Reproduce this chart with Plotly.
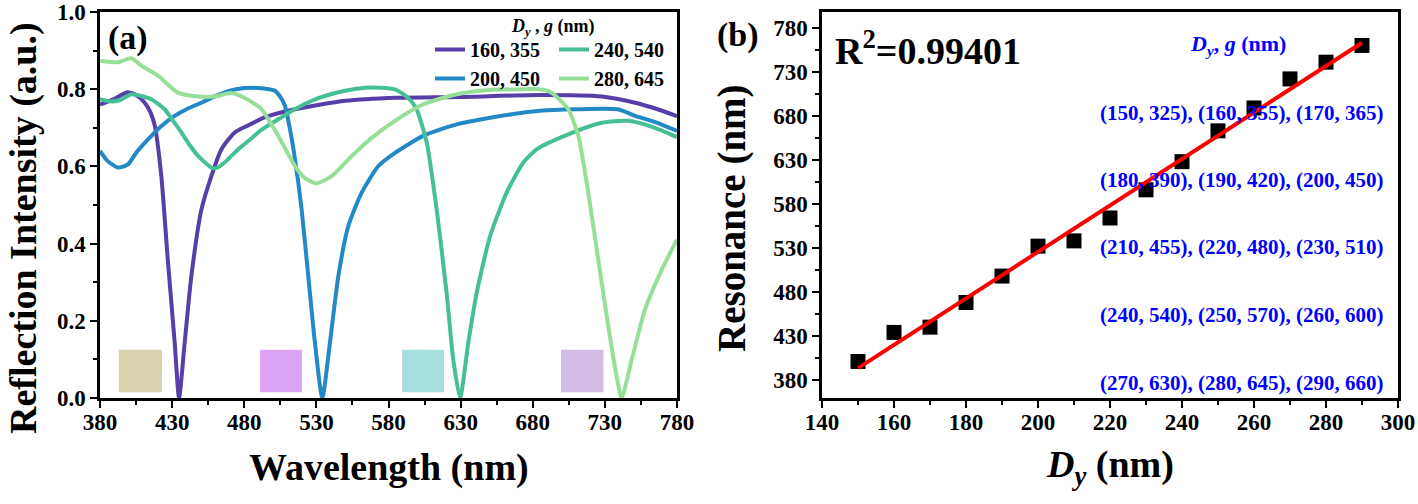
import numpy as np
import plotly.graph_objects as go

# ---------------- data: panel (a) ----------------
wl_160 = [380, 390, 399, 405, 411, 415, 418, 422.5, 427, 431.8, 434.8, 438.7, 443.3, 450.3, 457.2,
          464.1, 473.4, 482, 495, 515, 550, 585, 630, 685, 728, 751, 765, 780]
r_160 = [0.76, 0.775, 0.792, 0.785, 0.765, 0.74, 0.705, 0.575, 0.358, 0.143, 0.0, 0.143, 0.315, 0.488, 0.575,
         0.644, 0.688, 0.705, 0.728, 0.748, 0.770, 0.778, 0.78, 0.785, 0.781, 0.765, 0.75, 0.73]

wl_200 = [380, 385, 392.5, 399.4, 405, 413.3, 422, 431.8, 441, 450.2, 460, 468.7, 480, 490, 497, 501.3,
          505, 508.2, 512, 515.2, 519.8, 524.4, 529, 534.1, 539.4, 545.2, 552.1, 561.4, 573, 584.5,
          604, 627.3, 650.4, 685, 710, 739, 751, 765, 780]
r_200 = [0.64, 0.615, 0.597, 0.605, 0.635, 0.67, 0.703, 0.731, 0.75, 0.765, 0.782, 0.795, 0.803, 0.803, 0.80, 0.796,
         0.78, 0.757, 0.69, 0.618, 0.488, 0.315, 0.143, 0.0, 0.143, 0.315, 0.445, 0.532, 0.601, 0.635,
         0.679, 0.709, 0.726, 0.744, 0.748, 0.748, 0.731, 0.715, 0.692]

wl_240 = [380, 387.8, 394, 401.7, 408, 415.6, 424.8, 430, 436.4, 442, 448, 457.2, 461, 466.4, 475.7, 482.6,
          492, 503.6, 515, 526.8, 538, 549.8, 563.7, 575, 584, 590.3, 595, 599.5, 606.5, 613.4, 620.3,
          624.9, 629.6, 635.3, 641.1, 650.4, 661.9, 673.5, 683, 704.6, 727.8, 746.3, 764.7, 780]
r_240 = [0.774, 0.768, 0.772, 0.787, 0.783, 0.774, 0.748, 0.722, 0.688, 0.656, 0.627, 0.597, 0.596, 0.61, 0.644, 0.665,
         0.695, 0.722, 0.748, 0.770, 0.785, 0.796, 0.804, 0.804, 0.800, 0.787, 0.772, 0.748, 0.662, 0.488, 0.272,
         0.099, 0.0, 0.143, 0.272, 0.419, 0.532, 0.61, 0.645, 0.683, 0.713, 0.718, 0.70, 0.676]

wl_280 = [380, 392.5, 401.7, 408.6, 420.2, 434, 447.9, 459.5, 471, 480, 486, 492, 503.6, 515.2, 522, 530,
          540.6, 554.5, 568.4, 584.5, 604.1, 627.3, 650.4, 673.5, 685, 693.1, 704.6, 711.6, 718.5, 725.4,
          732.4, 738.2, 741.6, 748.6, 757.8, 769.4, 780]
r_280 = [0.874, 0.870, 0.880, 0.861, 0.835, 0.791, 0.781, 0.781, 0.79, 0.778, 0.765, 0.748, 0.679, 0.601, 0.570, 0.556,
         0.575, 0.627, 0.674, 0.718, 0.761, 0.787, 0.798, 0.80, 0.80, 0.791, 0.748, 0.679, 0.532, 0.358,
         0.185, 0.055, 0.0, 0.099, 0.229, 0.332, 0.41]

series_names = ["160, 355", "200, 450", "240, 540", "280, 645"]

# ---------------- data: panel (b) ----------------
dy = [150, 160, 170, 180, 190, 200, 210, 220, 230, 240, 250, 260, 270, 280, 290]
resonance = [401, 434, 440, 468, 498, 532, 538, 564, 596, 628, 663, 689, 722, 741, 760]
r2_text = "R<sup>2</sup>=0.99401"
pair_rows = [
    "(150, 325), (160, 355), (170, 365)",
    "(180, 390), (190, 420), (200, 450)",
    "(210, 455), (220, 480), (230, 510)",
    "(240, 540), (250, 570), (260, 600)",
    "(270, 630), (280, 645), (290, 660)",
]

# ---------------- styling ----------------
FONT = "Liberation Serif, Times New Roman, serif"
colors = ["#573ea8", "#2389c6", "#45c095", "#97df98"]
box_x0 = [393, 491, 589.5, 699.5]
box_x1 = [423, 520, 618.5, 729]
box_colors = ["#d9d2b1", "#dca3f5", "#a6dddd", "#d2bbe5"]

W, H = 1418, 504
ML, MR, MT, MB = 100, 20, 12, 106
PW = W - ML - MR
PH = H - MT - MB


def px(x):
    return (x - ML) / PW


def py(y):
    return (H - MB - y) / PH


fig = go.Figure()

curves = [(wl_160, r_160), (wl_200, r_200), (wl_240, r_240), (wl_280, r_280)]
legend_ids = ["legend", "legend", "legend2", "legend2"]
for (xs, ys), name, col, lg in zip(curves, series_names, colors, legend_ids):
    fig.add_trace(go.Scatter(x=xs, y=ys, mode="lines", name=name,
                             line=dict(color=col, width=4, shape="spline", smoothing=0.6),
                             xaxis="x", yaxis="y", legend=lg))

fig.add_trace(go.Scatter(x=dy, y=resonance, mode="markers", showlegend=False,
                         marker=dict(symbol="square", size=15, color="black"),
                         xaxis="x2", yaxis="y2"))
slope, icpt = np.polyfit(dy, resonance, 1)
fit_x = [dy[0], dy[-1]]
fit_y = [slope * v + icpt for v in fit_x]
fig.add_trace(go.Scatter(x=fit_x, y=fit_y, mode="lines", showlegend=False,
                         line=dict(color="red", width=4), xaxis="x2", yaxis="y2"))

for x0, x1, c in zip(box_x0, box_x1, box_colors):
    fig.add_shape(type="rect", xref="x", yref="y", x0=x0, x1=x1, y0=0.015, y1=0.125,
                  fillcolor=c, line=dict(width=0), layer="below")

tickfont = dict(family=FONT, size=23, color="black", weight="bold")
axis_common = dict(showline=True, linecolor="black", linewidth=2.5, mirror=True,
                   ticks="outside", ticklen=7, tickwidth=2, tickcolor="black",
                   showgrid=False, zeroline=False, tickfont=tickfont, automargin=False)

fig.update_layout(
    width=W, height=H,
    margin=dict(l=ML, r=MR, t=MT, b=MB, autoexpand=False),
    paper_bgcolor="white", plot_bgcolor="white",
    xaxis=dict(domain=[0, px(677)], range=[380, 780], tick0=380, dtick=50,
               minor=dict(dtick=25, tick0=380, ticks="outside", ticklen=4, tickwidth=1.5, tickcolor="black"),
               anchor="y", ticklabelstandoff=-5, **axis_common),
    yaxis=dict(domain=[0, 1], range=[0, 1.0], tick0=0, dtick=0.2, tickformat=".1f",
               minor=dict(dtick=0.1, tick0=0, ticks="outside", ticklen=4, tickwidth=1.5, tickcolor="black"),
               anchor="x", **axis_common),
    xaxis2=dict(domain=[px(822), 1], range=[140, 300], tick0=140, dtick=20,
                minor=dict(dtick=10, tick0=140, ticks="outside", ticklen=4, tickwidth=1.5, tickcolor="black"),
                anchor="y2", ticklabelstandoff=-5, **axis_common),
    yaxis2=dict(domain=[0, 1], range=[359.5, 798], tick0=380, dtick=50,
                minor=dict(dtick=25, tick0=380, ticks="outside", ticklen=4, tickwidth=1.5, tickcolor="black"),
                anchor="x2", **axis_common),
    legend=dict(x=px(430), y=py(30), xanchor="left", yanchor="top", bgcolor="rgba(0,0,0,0)",
                font=dict(family=FONT, size=20, color="black", weight="bold"),
                tracegroupgap=0, itemwidth=30),
    legend2=dict(x=px(554), y=py(30), xanchor="left", yanchor="top", bgcolor="rgba(0,0,0,0)",
                 font=dict(family=FONT, size=20, color="black", weight="bold"),
                 tracegroupgap=0, itemwidth=30),
    showlegend=True,
)

ann = []
def add_text(text, x, y, size, color="black", angle=0, xanchor="center", yanchor="middle"):
    ann.append(dict(text=text, x=x, y=y, xref="paper", yref="paper", showarrow=False,
                    xanchor=xanchor, yanchor=yanchor, textangle=angle,
                    font=dict(family=FONT, size=size, color=color, weight="bold")))

add_text("(a)", px(106), py(38), 34, xanchor="left")
add_text("<i>D</i><sub><i>y</i></sub> , <i>g</i> (nm)", px(553), py(27), 18)
add_text("Wavelength (nm)", px(388.5), py(467), 38)
add_text("Reflection Intensity (a.u.)", px(23), py(228), 38, angle=-90)

add_text("(b)", px(715), py(35), 34, xanchor="left")
add_text(r2_text, px(833), py(48), 38, xanchor="left")
add_text("Resonance (nm)", px(732), py(218), 39, angle=-90)
add_text("<i>D</i><sub><i>y</i></sub> (nm)", px(1110), py(467), 38)
add_text("<i>D</i><sub><i>y</i></sub>, <i>g</i> (nm)", px(1238), py(45), 22, color="blue")
row_y = [113, 180, 247, 315, 383]
for t, yy in zip(pair_rows, row_y):
    add_text(t, px(1385), py(yy), 21, color="blue", xanchor="right")

fig.update_layout(annotations=ann)
fig.write_html("out.html", config={"displayModeBar": False},
               post_script="document.body.style.margin='0';document.body.style.padding='0';")
